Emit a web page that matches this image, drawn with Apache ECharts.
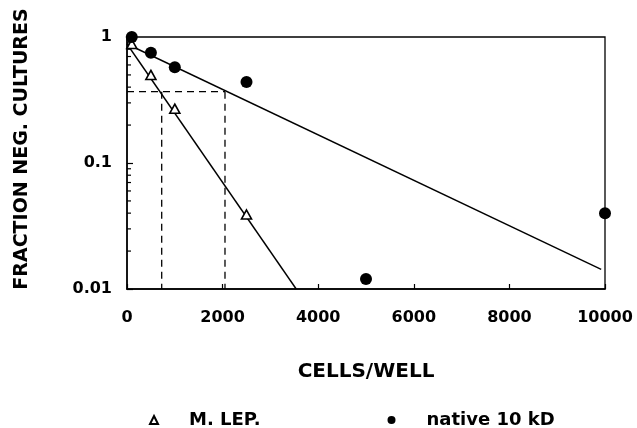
<!DOCTYPE html>
<html>
<head>
<meta charset="utf-8">
<script src="https://cdn.jsdelivr.net/npm/echarts@6/dist/echarts.min.js"></script>
<style>html,body{margin:0;padding:0;background:#fff;}#c{width:637px;height:428px;}</style>
</head>
<body>
<div id="c"></div>
<script>
// ---- data ----
const mlepX = [100, 500, 1000, 2500];
const mlepY = [0.88, 0.5, 0.27, 0.039];
const nativeX = [100, 500, 1000, 2500, 5000, 10000];
const nativeY = [1.0, 0.75, 0.575, 0.44, 0.012, 0.04];
const mlepFitX = [0, 3540];
const mlepFitY = [0.88, 0.01];
const nativeFitX = [0, 9920];
const nativeFitY = [0.88, 0.0143];
const halfLevel = 0.368;
const mlepHalfX = 726;
const nativeHalfX = 2050;
const yMinorTicks = [0.02,0.03,0.04,0.05,0.06,0.07,0.08,0.09,0.2,0.3,0.4,0.5,0.6,0.7,0.8,0.9];
const xTicks = [0, 2000, 4000, 6000, 8000, 10000];
const yTicks = [0.01, 0.1, 1];

const zip = (xs, ys) => xs.map((x, i) => [x, ys[i]]);
const FONT = '"DejaVu Sans", sans-serif';

const chart = echarts.init(document.getElementById('c'), null, {renderer: 'canvas'});
chart.setOption({
  backgroundColor: '#fff',
  animation: false,
  grid: {left: 127, right: 32, top: 37, bottom: 139, show: true, borderColor: '#000', borderWidth: 1.3, backgroundColor: 'transparent'},
  xAxis: {
    type: 'value', min: xTicks[0], max: xTicks[xTicks.length - 1], interval: 2000,
    name: 'CELLS/WELL', nameLocation: 'middle', nameGap: 73,
    nameTextStyle: {fontFamily: FONT, fontWeight: 'bold', fontSize: 20, color: '#000'},
    axisLine: {lineStyle: {color: '#000', width: 1.5}},
    axisTick: {inside: true, length: 5, lineStyle: {color: '#000', width: 1.2}},
    axisLabel: {margin: 21, fontFamily: FONT, fontWeight: 'bold', fontSize: 16, color: '#000',
      formatter: v => String(Math.round(v))},
    splitLine: {show: false}
  },
  yAxis: {
    type: 'log', logBase: 10, min: yTicks[0], max: yTicks[yTicks.length - 1],
    axisLine: {show: true, lineStyle: {color: '#000', width: 1.5}},
    axisTick: {show: true, inside: true, length: 6, lineStyle: {color: '#000', width: 1.2}},
    axisLabel: {margin: 15, fontFamily: FONT, fontWeight: 'bold', fontSize: 16, color: '#000',
      formatter: v => String(+v.toPrecision(3))},
    splitLine: {show: false}
  },
  legend: {
    data: ['M. LEP.', 'native 10 kD'],
    left: 144, top: 406, itemWidth: 8, itemHeight: 8, itemGap: 127,
    textStyle: {fontFamily: FONT, fontWeight: 'bold', fontSize: 18, color: '#000', padding: [0, 0, 0, 26]}
  },
  graphic: [{
    type: 'text', x: 22, y: 149, rotation: Math.PI / 2,
    style: {text: 'FRACTION NEG. CULTURES', font: 'bold 19px ' + FONT, fill: '#000',
      align: 'center', verticalAlign: 'middle', textAlign: 'center', textVerticalAlign: 'middle'}
  }],
  series: [
    {
      name: 'yMinor', type: 'custom', coordinateSystem: 'cartesian2d', silent: true, clip: false,
      data: yMinorTicks.map(v => [0, v]),
      renderItem: (params, api) => {
        const p = api.coord([0, api.value(1)]);
        return {type: 'line', shape: {x1: p[0], y1: p[1], x2: p[0] + 4, y2: p[1]},
          style: {stroke: '#000', lineWidth: 1.2}};
      }
    },
    {
      name: 'nativeFit', type: 'line', data: zip(nativeFitX, nativeFitY), symbol: 'none',
      lineStyle: {color: '#000', width: 1.4}, z: 3
    },
    {
      name: 'mlepFit', type: 'line', data: zip(mlepFitX, mlepFitY), symbol: 'none',
      lineStyle: {color: '#000', width: 1.4}, z: 3
    },
    {
      name: 'half', type: 'line', data: [[0, halfLevel], [nativeHalfX, halfLevel]], symbol: 'none',
      lineStyle: {color: '#000', width: 1.3, type: [7, 5]}, z: 2
    },
    {
      name: 'halfM', type: 'line', data: [[mlepHalfX, halfLevel], [mlepHalfX, yTicks[0]]], symbol: 'none',
      lineStyle: {color: '#000', width: 1.3, type: [7, 5]}, z: 2
    },
    {
      name: 'halfN', type: 'line', data: [[nativeHalfX, halfLevel], [nativeHalfX, yTicks[0]]], symbol: 'none',
      lineStyle: {color: '#000', width: 1.3, type: [7, 5]}, z: 2
    },
    {
      name: 'M. LEP.', type: 'scatter', data: zip(mlepX, mlepY), symbol: 'triangle', symbolSize: [10, 9],
      itemStyle: {color: '#fff', borderColor: '#000', borderWidth: 1.6, opacity: 1}, z: 4
    },
    {
      name: 'native 10 kD', type: 'scatter', data: zip(nativeX, nativeY), symbol: 'circle', symbolSize: 12,
      itemStyle: {color: '#000', borderColor: '#000', borderWidth: 0, opacity: 1}, z: 5
    }
  ]
});
</script>
</body>
</html>
